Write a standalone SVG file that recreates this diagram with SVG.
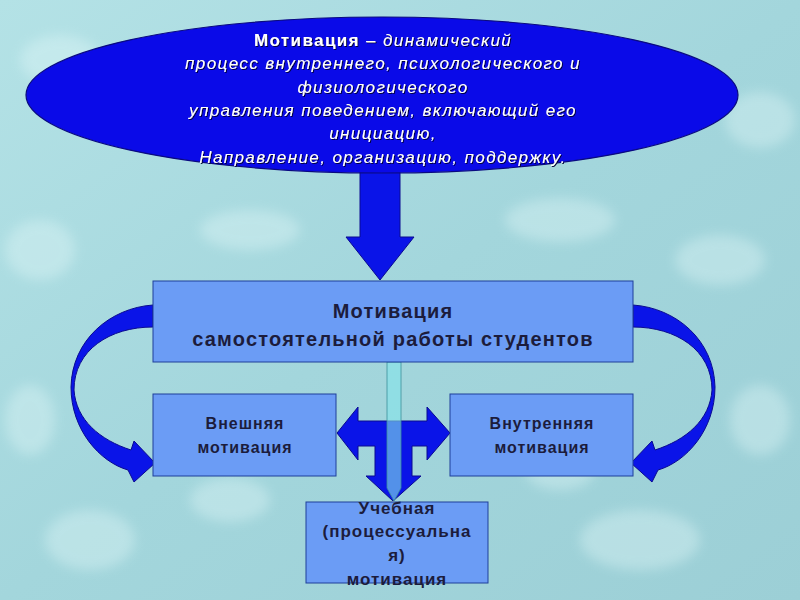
<svg xmlns="http://www.w3.org/2000/svg" width="800" height="600" viewBox="0 0 800 600">
<defs>
<linearGradient id="bg" x1="0" y1="0" x2="1" y2="1">
<stop offset="0" stop-color="#b4e2e6"/>
<stop offset="0.5" stop-color="#a3d6dc"/>
<stop offset="1" stop-color="#9ccfd6"/>
</linearGradient>
<filter id="blur" x="-50%" y="-50%" width="200%" height="200%"><feGaussianBlur stdDeviation="6"/></filter>
<filter id="sh" x="-10%" y="-20%" width="120%" height="140%"><feDropShadow dx="1" dy="1" stdDeviation="0.6" flood-color="#000033" flood-opacity="0.9"/></filter>
<path id="curve" d="M153,305 C110,308 72,340 71,387 C71,430 100,462 128,470 L134,482 L155,463 L134,441 L131,450 C100,440 76,420 74,390 C74,350 110,327 153,327 Z"/>
</defs>
<style>
.box{fill:#6b9cf5;stroke:#1f3f9a;stroke-width:1}
.bt{font-family:"Liberation Sans",Arial,sans-serif;font-weight:bold;fill:#1c1c3c;text-anchor:middle}
.et{font-family:"Liberation Sans",Arial,sans-serif;font-style:italic;fill:#ffffff;text-anchor:middle;font-size:17px;letter-spacing:1.4px}
.arrow{fill:#0a14e8;stroke:#0a0a90;stroke-width:1}
</style>
<rect width="800" height="600" fill="url(#bg)"/>
<g opacity="0.35" filter="url(#blur)" fill="#e8fbfb">
<ellipse cx="60" cy="60" rx="40" ry="25"/><ellipse cx="760" cy="120" rx="35" ry="28"/>
<ellipse cx="720" cy="260" rx="45" ry="25"/><ellipse cx="40" cy="250" rx="35" ry="30"/>
<ellipse cx="250" cy="230" rx="50" ry="20"/><ellipse cx="560" cy="220" rx="55" ry="22"/>
<ellipse cx="90" cy="540" rx="45" ry="30"/><ellipse cx="640" cy="540" rx="60" ry="30"/>
<ellipse cx="230" cy="500" rx="40" ry="22"/><ellipse cx="560" cy="470" rx="35" ry="20"/>
<ellipse cx="760" cy="420" rx="30" ry="35"/><ellipse cx="30" cy="420" rx="25" ry="35"/>
</g>
<g id="connectors">
<path class="arrow" d="M360,170 L400,170 L400,237 L414,237 L380,280 L346,237 L360,237 Z"/>
<use href="#curve" class="arrow"/>
<use href="#curve" class="arrow" transform="translate(786,0) scale(-1,1)"/>
<path class="arrow" d="M337,433 L358,407 L358,421 L427,421 L427,407 L450,433 L427,460 L427,446 L412,446 L412,476 L421,476 L393,501 L366,476 L375,476 L375,446 L358,446 L358,460 Z"/>
<path d="M387,362 L401,362 L401,488 L394,501 L387,488 Z" fill="#84e4ea" fill-opacity="0.6" stroke="#3a8f9a" stroke-width="0.8"/>
</g>
<g id="definition">
<ellipse cx="382" cy="95" rx="356" ry="78" fill="#0a0ae8" stroke="#0a0a80" stroke-width="1.2"/>
<g filter="url(#sh)">
<text class="et" x="383" y="46"><tspan font-weight="bold" font-style="normal">Мотивация</tspan> – динамический</text>
<text class="et" x="383" y="69">процесс внутреннего, психологического и</text>
<text class="et" x="383" y="93">физиологического</text>
<text class="et" x="383" y="116">управления поведением, включающий его</text>
<text class="et" x="383" y="139">инициацию,</text>
<text class="et" x="383" y="163">Направление, организацию, поддержку.</text>
</g>
</g>
<g id="main">
<rect class="box" x="153" y="281" width="480" height="81"/>
<text class="bt" x="393" y="318" font-size="20" letter-spacing="1.2">Мотивация</text>
<text class="bt" x="393" y="346" font-size="20" letter-spacing="1.2">самостоятельной работы студентов</text>
</g>
<g id="external">
<rect class="box" x="153" y="394" width="183" height="82"/>
<text class="bt" x="245" y="429" font-size="16" letter-spacing="1">Внешняя</text>
<text class="bt" x="245" y="453" font-size="16" letter-spacing="1">мотивация</text>
</g>
<g id="internal">
<rect class="box" x="450" y="394" width="183" height="82"/>
<text class="bt" x="542" y="429" font-size="16" letter-spacing="1">Внутренняя</text>
<text class="bt" x="542" y="453" font-size="16" letter-spacing="1">мотивация</text>
</g>
<g id="learning">
<rect class="box" x="306" y="502" width="182" height="81"/>
<text class="bt" x="397" y="514" font-size="17" letter-spacing="1">Учебная</text>
<text class="bt" x="397" y="537" font-size="17" letter-spacing="1">(процессуальна</text>
<text class="bt" x="397" y="561" font-size="17" letter-spacing="1">я)</text>
<text class="bt" x="397" y="585" font-size="17" letter-spacing="1">мотивация</text>
</g>
</svg>
